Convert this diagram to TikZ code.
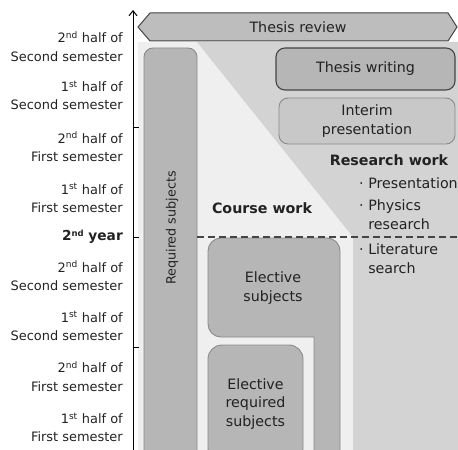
\documentclass[tikz,border=0pt]{standalone}
\usepackage{fontspec}
\setmainfont{DejaVu Sans}
\usepackage{tikz}
\usetikzlibrary{arrows.meta, positioning}
\definecolor{bglight}{HTML}{EFEFEF}
\definecolor{resgray}{HTML}{D3D3D3}
\definecolor{boxgray}{HTML}{B6B6B6}
\definecolor{boxline}{HTML}{8A8A8A}
\definecolor{darkline}{HTML}{454545}
\definecolor{txtgray}{HTML}{222222}
\tikzstyle{block} = [rectangle, draw=boxline, fill=boxgray, rounded corners=9bp,
  line width=0.9bp, text=txtgray, align=center, font=\fontsize{14.3}{18.7}\selectfont]
\tikzstyle{lbl} = [anchor=east, align=right, text=txtgray, inner sep=0pt,
  font=\fontsize{13}{18.5}\selectfont]
\tikzstyle{txt} = [text=txtgray, inner sep=0pt, font=\fontsize{14.3}{18.7}\selectfont]
\tikzstyle{axis} = [line width=1bp, -{Straight Barb[length=5bp, width=8bp]}]

\begin{document}
\begin{tikzpicture}[x=1bp, y=-1bp]
    \useasboundingbox (0,0) rectangle (458,450);
    \clip (0,0) rectangle (458,450);
    % backgrounds
    \fill[bglight] (138,42) rectangle (460,460);
    \fill[resgray] (197,42) -- (460,42) -- (460,460) -- (353,460) -- (353,237) -- cycle;
    % thesis review
    \draw[darkline, fill=boxgray!90!white, line width=1bp]
      (138,27) -- (150,13) -- (448,13) -- (457,27) -- (448,41) -- (150,41) -- cycle;
    \node[txt] (review) at (298,27) {Thesis review};
    % time axis
    \draw[axis] (133,455) -- (133,10);
    \draw[line width=1bp] (133,128) -- (139,128);
    \draw[line width=1bp] (133,237) -- (139,237);
    \draw[line width=1bp] (133,347) -- (139,347);
    \node[lbl] (s8) at (123,46.5) {2\textsuperscript{nd} half of\\Second semester};
    \node[lbl] (s7) at (123,95.5) {1\textsuperscript{st} half of\\Second semester};
    \node[lbl] (s6) at (123,147) {2\textsuperscript{nd} half of\\First semester};
    \node[lbl] (s5) at (123,198) {1\textsuperscript{st} half of\\First semester};
    \node[lbl, font=\fontsize{13.8}{18}\selectfont\bfseries] (year2) at (123,237)
      {2{\fontsize{8.5}{8}\selectfont\raisebox{4.5bp}{nd}} year};
    \node[lbl] (s4) at (123,276) {2\textsuperscript{nd} half of\\Second semester};
    \node[lbl] (s3) at (123,326) {1\textsuperscript{st} half of\\Second semester};
    \node[lbl] (s2) at (123,376.5) {2\textsuperscript{nd} half of\\First semester};
    \node[lbl] (s1) at (123,427.5) {1\textsuperscript{st} half of\\First semester};
    % course work
    \node[block, minimum width=412bp, minimum height=53bp, rotate=90] (req) at (170.5,254) {};
    \node[txt, rotate=90, font=\fontsize{12.8}{18}\selectfont] (reqlbl) at (172,228) {Required subjects};
    \draw[boxline, fill=boxgray, line width=0.9bp]
      (314,470) -- (314,337) [rounded corners=13bp] -- (208,337) -- (208,238)
      -- (340,238) -- (340,470) -- cycle;
    \node[txt, align=center] (elect) at (273,288) {Elective\\subjects};
    \node[block, rounded corners=14bp, minimum width=95bp, minimum height=118bp]
      (electreq) at (255.5,404) {Elective\\required\\subjects};
    \node[txt, font=\fontsize{14.3}{18.7}\selectfont\bfseries] (course) at (262,208) {Course work};
    \draw[darkline, dashed, line width=1.3bp, dash pattern=on 7bp off 4bp] (197,237) -- (460,237);
    % research work
    \node[block, draw=darkline, line width=1.1bp, minimum width=179bp, minimum height=42bp]
      (writing) at (365.5,69) {Thesis writing};
    \node[block, fill=boxgray!75!white, minimum width=176bp, minimum height=46bp]
      (interim) at (367,121) {Interim\\presentation};
    \node[txt, font=\fontsize{14.3}{18.7}\selectfont\bfseries] (research) at (389,160) {Research work};
    \node[txt, anchor=west] (pres) at (359,183) {· Presentation};
    \node[txt, anchor=west, align=left] (phys) at (359,214.5) {· Physics\\\phantom{· }research};
    \node[txt, anchor=west, align=left] (lit) at (359,258.5) {· Literature\\\phantom{· }search};
\end{tikzpicture}
\end{document}
